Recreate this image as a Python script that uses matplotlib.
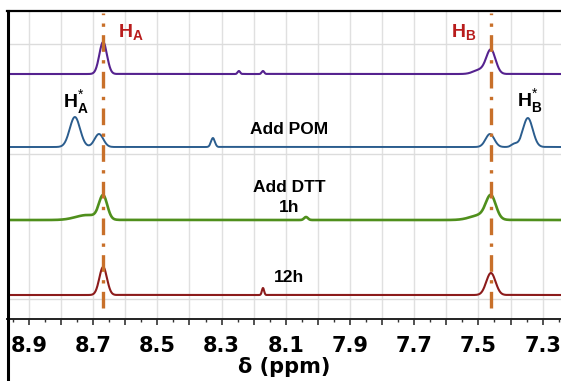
import matplotlib.pyplot as plt
import numpy as np
from matplotlib.lines import Line2D
from matplotlib.ticker import MultipleLocator, FuncFormatter

plt.rcParams['mathtext.fontset'] = 'custom'
plt.rcParams['mathtext.bf'] = 'Liberation Sans:bold'
plt.rcParams['mathtext.rm'] = 'Liberation Sans'

# chemical shift of the two proton signals (ppm)
shift_HA = 8.669
shift_HB = 7.461

# each trace: peaks as (shift ppm, height, fwhm ppm)
peaks_start = [(8.669, 32, 0.028), (7.461, 24, 0.034), (7.497, 4, 0.045),
               (8.246, 3, 0.009), (8.171, 3, 0.009)]
peaks_pom = [(8.757, 30, 0.038), (8.682, 13, 0.032), (7.464, 13, 0.032),
             (7.346, 29, 0.036), (7.388, 3, 0.022), (8.327, 9, 0.014)]
peaks_dtt_1h = [(8.669, 23, 0.030), (8.718, 5, 0.085), (7.461, 22, 0.036),
                (7.492, 5, 0.075), (8.037, 3, 0.014)]
peaks_dtt_12h = [(8.669, 28, 0.028), (7.461, 22, 0.034), (8.171, 7, 0.008)]

offsets = [245, 172, 99, 24]
colors = ['#55228f', '#2b5d8e', '#4f8f1c', '#8c1b1b']
widths = [1.5, 1.4, 1.9, 1.5]
traces = [peaks_start, peaks_pom, peaks_dtt_1h, peaks_dtt_12h]

ppm = np.linspace(7.2, 9.0, 4000)


def spectrum(peaks):
    y = np.zeros_like(ppm)
    for pos, h, fw in peaks:
        s = fw / 2.3548
        y += h * np.exp(-0.5 * ((ppm - pos) / s) ** 2)
    return y


fig = plt.figure(figsize=(5.61, 3.81), dpi=100)
ax = fig.add_axes([7 / 561, 62 / 381, 1 - 7 / 561, 308 / 381])

for peaks, off, c, lw in zip(traces, offsets, colors, widths):
    ax.plot(ppm, spectrum(peaks) + off, color=c, lw=lw, zorder=3)

# dash-dot markers through H_A and H_B
for s in (shift_HA, shift_HB):
    ax.plot([s, s], [11, 306], color='#c8702a', lw=2.4,
            dashes=(5, 2.5, 1, 2.5), zorder=4)

ax.set_xlim(8.9685, 7.2427)
ax.set_ylim(0, 308)

# grid
for g in np.arange(7.3, 8.95, 0.1):
    ax.axvline(g, color='#e0e0e0', lw=1.0, zorder=1)
for g in (20, 165, 275):
    ax.axhline(g, color='#dcdcdc', lw=1.0, zorder=1)

ax.xaxis.set_major_locator(MultipleLocator(0.1))
ax.xaxis.set_minor_locator(MultipleLocator(0.05))


def fmt(v, pos):
    k = int(round(v * 10))
    return f'{v:.1f}' if k % 2 == 1 else ''


ax.xaxis.set_major_formatter(FuncFormatter(fmt))
ax.tick_params(axis='x', which='major', length=4, width=1.2, color='#333333',
               pad=8, labelsize=15)
ax.tick_params(axis='x', which='minor', length=2, width=1.0, color='#333333')
for lab in ax.get_xticklabels():
    lab.set_fontweight('bold')
ax.set_yticks([])
ax.set_xlabel('δ (ppm)', fontsize=15, fontweight='bold', labelpad=1)

ax.spines['right'].set_visible(False)
ax.spines['left'].set_visible(False)
ax.spines['top'].set_linewidth(1.6)
ax.spines['bottom'].set_linewidth(1.4)
ax.spines['bottom'].set_color('#222222')

# left rule running down the full height
fig.add_artist(Line2D([7.5 / 561, 7.5 / 561], [0, 370 / 381],
                      color='black', lw=2.2))

red = '#b81c1c'
ax.text(8.623, 286, r'$\mathbf{H}_\mathbf{A}$', color=red, fontsize=14,
        ha='left', va='center')
ax.text(7.585, 286, r'$\mathbf{H}_\mathbf{B}$', color=red, fontsize=14,
        ha='left', va='center')
ax.text(8.795, 216, r'$\mathbf{H}_\mathbf{A}^{*}$', color='black',
        fontsize=14, ha='left', va='center')
ax.text(7.380, 217, r'$\mathbf{H}_\mathbf{B}^{*}$', color='black',
        fontsize=14, ha='left', va='center')

lab_kw = dict(fontsize=12.5, fontweight='bold', family='Liberation Sans',
              ha='center', va='center')
ax.text(8.09, 190, 'Add POM', **lab_kw)
ax.text(8.09, 131, 'Add DTT', **lab_kw)
ax.text(8.09, 111, '1h', **lab_kw)
ax.text(8.09, 41, '12h', **lab_kw)

fig.savefig('out.png', dpi=100)
